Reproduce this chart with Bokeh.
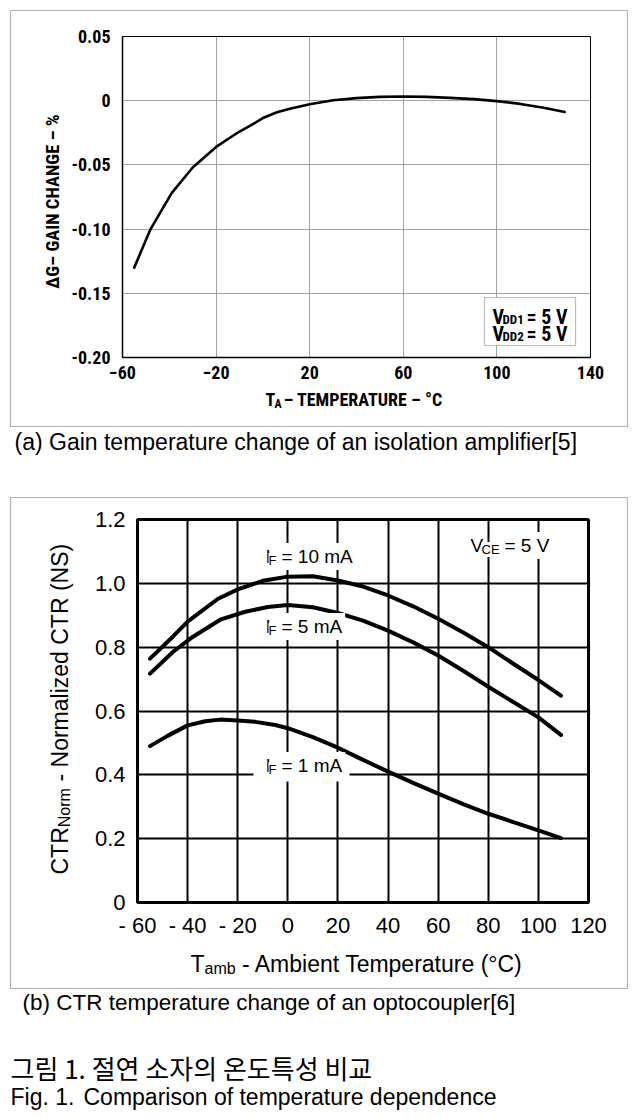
import math
from bokeh.plotting import figure
from bokeh.models import Label, BoxAnnotation, Range1d
from bokeh.embed import file_html
from bokeh.resources import INLINE

# ---------------- data: (a) isolation amplifier gain change ----------------
temp_a = [-55, -48, -39, -30, -20, -10, -5, 0, 6, 12, 20, 30, 40, 50, 60, 70, 80, 90, 100, 110, 120, 129]
gain_a = [-0.130, -0.100, -0.072, -0.052, -0.036, -0.024, -0.019, -0.0135, -0.009, -0.006, -0.0028,
          0.0003, 0.002, 0.003, 0.0033, 0.003, 0.0022, 0.0012, -0.0003, -0.0025, -0.0055, -0.0088]
xticks_a = [-60, -20, 20, 60, 100, 140]
yticks_a = [-0.20, -0.15, -0.10, -0.05, 0.0, 0.05]
ylabels_a = ["-0.20", "-0.15", "-0.10", "-0.05", "0", "0.05"]

# ---------------- data: (b) optocoupler CTR ----------------
temp_10 = [-55, -46, -40, -28, -20, -10, 0, 10, 20, 30, 40, 50, 60, 70, 80, 90, 100, 109]
ctr_10 = [0.764, 0.832, 0.880, 0.951, 0.981, 1.008, 1.021, 1.022, 1.009, 0.990, 0.962, 0.928,
          0.889, 0.846, 0.800, 0.748, 0.697, 0.648]
temp_5 = [-55, -46, -38, -27, -17, -8, 0, 10, 20, 30, 40, 50, 60, 70, 80, 90, 100, 109]
ctr_5 = [0.717, 0.784, 0.832, 0.886, 0.911, 0.926, 0.932, 0.925, 0.907, 0.883, 0.852, 0.815,
         0.774, 0.726, 0.676, 0.628, 0.580, 0.525]
temp_1 = [-55, -48, -40, -33, -27, -20, -13, -5, 0, 10, 20, 30, 40, 50, 60, 70, 80, 90, 100, 109]
ctr_1 = [0.490, 0.522, 0.555, 0.568, 0.573, 0.570, 0.566, 0.556, 0.546, 0.518, 0.485, 0.447,
         0.410, 0.375, 0.341, 0.308, 0.278, 0.252, 0.226, 0.202]
xticks_b = [-60, -40, -20, 0, 20, 40, 60, 80, 100, 120]
xlabels_b = ["- 60", "- 40", "- 20", "0", "20", "40", "60", "80", "100", "120"]
yticks_b = [0.0, 0.2, 0.4, 0.6, 0.8, 1.0, 1.2]
ylabels_b = ["0", "0.2", "0.4", "0.6", "0.8", "1.0", "1.2"]

CONDB = "Roboto Condensed, Liberation Sans Narrow, DejaVu Sans Condensed, Liberation Sans"
SANS = "Liberation Sans"
KR = "Noto Sans CJK KR"


def mapper(left, top, w, h, x0, x1, y0, y1):
    def fx(px):
        return x0 + (px - left) * (x1 - x0) / w

    def fy(py):
        return y1 - (py - top) * (y1 - y0) / h
    return fx, fy


def txt(p, fx, fy, px, py, text, size, font, style="normal", align="left",
        baseline="alphabetic", angle=0.0, bg=None, padding=0):
    lab = Label(x=fx(px), y=fy(py), text=text, text_font=font, text_font_size=f"{size}px",
                text_font_style=style, text_align=align, text_baseline=baseline,
                text_color="black", angle=angle)
    if bg is not None:
        lab.background_fill_color = bg
        lab.padding = padding
    p.add_layout(lab)


def style_axes(p, font, size, fstyle, xstand, ystand, axis_color, axis_w):
    for ax in (p.xaxis[0], p.yaxis[0]):
        ax.major_tick_line_color = None
        ax.minor_tick_line_color = None
        ax.major_tick_in = 0
        ax.major_tick_out = 0
        ax.minor_tick_in = 0
        ax.minor_tick_out = 0
        ax.axis_line_color = axis_color
        ax.axis_line_width = axis_w
        ax.major_label_text_font = font
        ax.major_label_text_font_size = f"{size}px"
        ax.major_label_text_font_style = fstyle
        ax.major_label_text_color = "black"
    p.xaxis[0].major_label_standoff = xstand
    p.yaxis[0].major_label_standoff = ystand


def absolute(top, left=8):
    return {"position": "absolute", "left": f"{left}px", "top": f"{top}px"}


# ======================= figure (a) =======================
# canvas at page (8, 8), size 620x420; frame 122..590 x 36..357
pa = figure(width=620, height=420, x_range=Range1d(-60, 140), y_range=Range1d(-0.20, 0.05),
            output_backend="svg", toolbar_location=None,
            min_border_left=114, min_border_right=38, min_border_top=28, min_border_bottom=71,
            background_fill_color="white", border_fill_color="white", styles=absolute(8))
fxa, fya = mapper(122, 36, 468, 321, -60, 140, -0.20, 0.05)
pa.xaxis[0].ticker = xticks_a
pa.yaxis[0].ticker = yticks_a
pa.yaxis[0].major_label_overrides = {t: s for t, s in zip(yticks_a, ylabels_a)}
pa.xgrid.ticker = xticks_a
pa.ygrid.ticker = yticks_a
pa.grid.grid_line_color = "#a3a3a3"
pa.grid.grid_line_width = 1
pa.outline_line_color = "black"
pa.outline_line_width = 1
style_axes(pa, CONDB, 18, "bold", 8, 12, "black", 1.5)

pa.line(temp_a, gain_a, line_color="black", line_width=2.6, line_join="round", line_cap="round")

# condition box
pa.add_layout(BoxAnnotation(left=fxa(484), right=fxa(575), top=fya(297), bottom=fya(345),
                            fill_color="white", fill_alpha=1, line_color="#222222", line_width=1.2))
for yb, idx in ((316, "DD1"), (333, "DD2")):
    txt(pa, fxa, fya, 492, yb, "V", 20, CONDB, "bold")
    txt(pa, fxa, fya, 502, yb + 3, idx, 13, CONDB, "bold")
    txt(pa, fxa, fya, 526, yb, "= 5 V", 20, CONDB, "bold")

# ======================= figure (b) =======================
# canvas at page (8, 490), size 620x452; frame 137..588 x 519..902
pb = figure(width=620, height=452, x_range=Range1d(-60, 120), y_range=Range1d(0, 1.2),
            output_backend="svg", toolbar_location=None,
            min_border_left=129, min_border_right=40, min_border_top=29, min_border_bottom=40,
            background_fill_color="white", border_fill_color="white", styles=absolute(490))
fxb, fyb = mapper(137, 519, 451, 383, -60, 120, 0.0, 1.2)
pb.xaxis[0].ticker = xticks_b
pb.xaxis[0].major_label_overrides = {t: s for t, s in zip(xticks_b, xlabels_b)}
pb.yaxis[0].ticker = yticks_b
pb.yaxis[0].major_label_overrides = {t: s for t, s in zip(yticks_b, ylabels_b)}
pb.xgrid.ticker = xticks_b
pb.ygrid.ticker = yticks_b
pb.grid.grid_line_color = "black"
pb.grid.grid_line_width = 2
pb.outline_line_color = "black"
pb.outline_line_width = 3
style_axes(pb, SANS, 22, "normal", 10, 12, None, 1)

# white gap in the 0.4 grid line behind the 1 mA label (under the curves)
pb.add_layout(BoxAnnotation(left=fxb(253), right=fxb(349), top=fyb(758), bottom=fyb(781),
                            fill_color="white", fill_alpha=1, line_color=None, level="underlay"))

for tx, cy in ((temp_10, ctr_10), (temp_5, ctr_5), (temp_1, ctr_1)):
    pb.line(tx, cy, line_color="black", line_width=4, line_join="round", line_cap="round")

# curve labels: last piece first (with padding), then I, then subscript
for yb, rest in ((556, "= 10 mA"), (626, "= 5 mA"), (765, "= 1 mA")):
    txt(pb, fxb, fyb, 278, yb, rest, 19, SANS, bg="white", padding=3)
    txt(pb, fxb, fyb, 262, yb, "I", 19, SANS, bg="white", padding=3)
    txt(pb, fxb, fyb, 268, yb + 4, "F", 13, SANS, bg="white")
txt(pb, fxb, fyb, 501, 545, "= 5 V", 19, SANS, bg="white", padding=3)
txt(pb, fxb, fyb, 467, 545, "V", 19, SANS, bg="white", padding=3)
txt(pb, fxb, fyb, 481, 549, "CE", 13, SANS, bg="white")

# ======================= text overlay (page coordinates) =======================
po = figure(width=620, height=1102, x_range=Range1d(0, 620), y_range=Range1d(1102, 0),
            x_axis_type=None, y_axis_type=None, output_backend="svg", toolbar_location=None,
            min_border=0, min_border_left=0, min_border_right=0, min_border_top=0, min_border_bottom=0,
            background_fill_alpha=0, border_fill_alpha=0, styles=absolute(8))
po.outline_line_color = None
po.xgrid.visible = False
po.ygrid.visible = False


def fxo(px):
    return px - 8


def fyo(py):
    return py - 8


# panel frames
po.add_layout(BoxAnnotation(left=fxo(10), right=fxo(627), top=fyo(10), bottom=fyo(426),
                            fill_alpha=0, line_color="black", line_width=1.2))
po.add_layout(BoxAnnotation(left=fxo(10), right=fxo(627), top=fyo(497), bottom=fyo(988),
                            fill_alpha=0, line_color="black", line_width=1.2))

# (a) axis titles
txt(po, fxo, fyo, 265, 399, "T", 18, CONDB, "bold")
txt(po, fxo, fyo, 274, 403, "A", 12, CONDB, "bold")
txt(po, fxo, fyo, 283, 399, "\u2013 TEMPERATURE \u2013 \u00b0C", 18, CONDB, "bold")
txt(po, fxo, fyo, 52, 201, "\u0394G\u2013 GAIN CHANGE \u2013 %", 18.5, CONDB, "bold",
    align="center", baseline="middle", angle=math.pi / 2)
txt(po, fxo, fyo, 14, 441, "(a) Gain temperature change of an isolation amplifier[5]", 23, SANS)

# (b) axis titles
txt(po, fxo, fyo, 190, 963, "T", 23, SANS)
txt(po, fxo, fyo, 204, 968, "amb", 16, SANS)
txt(po, fxo, fyo, 241.5, 963, "- Ambient Temperature (\u00b0C)", 23, SANS)
txt(po, fxo, fyo, 59, 874, "CTR", 23, SANS, angle=math.pi / 2)
txt(po, fxo, fyo, 63.5, 826.7, "Norm", 16, SANS, angle=math.pi / 2)
txt(po, fxo, fyo, 59, 781, "- Normalized CTR (NS)", 23, SANS, angle=math.pi / 2)
txt(po, fxo, fyo, 22, 1002, "(b) CTR temperature change of an optocoupler[6]", 22.5, SANS)

# figure caption
txt(po, fxo, fyo, 10, 1067, "\uadf8\ub9bc 1. \uc808\uc5f0 \uc18c\uc790\uc758 \uc628\ub3c4\ud2b9\uc131 \ube44\uad50", 26, KR)
txt(po, fxo, fyo, 10, 1096, "Fig. 1.", 23, SANS)
txt(po, fxo, fyo, 83, 1096, "Comparison of temperature dependence", 23, SANS)

open("out.html", "w").write(file_html([pa, pb, po], INLINE))
